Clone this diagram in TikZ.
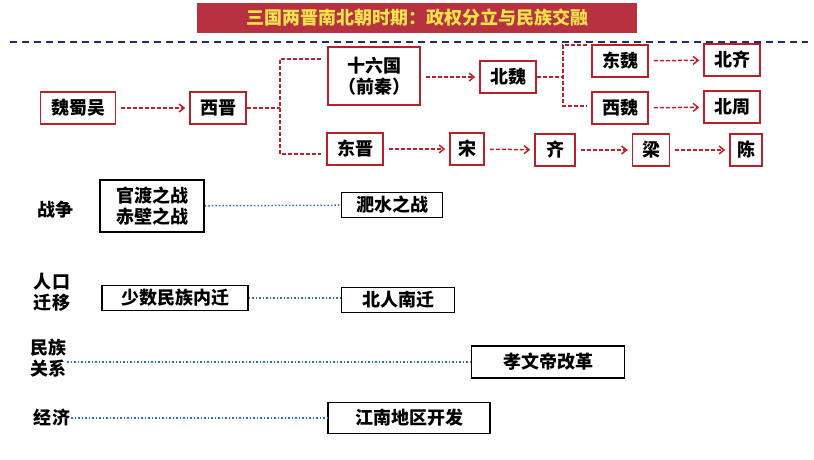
\documentclass[tikz,border=0pt]{standalone}
\usepackage{fontspec}
\setmainfont{Noto Sans CJK SC}
\usetikzlibrary{positioning,arrows.meta}
\definecolor{titlered}{HTML}{B83140}
\definecolor{titleyellow}{HTML}{F7E44C}
\definecolor{boxred}{HTML}{B8202A}
\definecolor{linkred}{HTML}{C0202A}
\definecolor{dashblue}{HTML}{1F2F6B}
\definecolor{dotblue}{HTML}{2F6FBF}
\begin{document}
\begin{tikzpicture}[
                x=1pt,y=-1pt,
                font=\fontsize{18}{21}\selectfont\bfseries,
                state/.style={draw=boxred,line width=1.5pt,inner sep=2pt,minimum width=56pt,minimum height=32pt,align=center},
                event/.style={draw=black,line width=1.5pt,inner sep=2pt,minimum height=25pt,align=center},
                link/.style={draw=linkred,line width=1.5pt,dash pattern=on 4pt off 2pt,shorten <=5pt,shorten >=4pt,-{Straight Barb[length=5pt,width=8pt]}},
                branch/.style={draw=linkred,line width=1.5pt,dash pattern=on 4pt off 2pt},
                tie/.style={draw=dotblue,line width=1.5pt,dotted},
                topic/.style={align=center,inner sep=1pt}
            ]
                \useasboundingbox (0,0) rectangle (814,460);
                % title
                \node (title) [fill=titlered,text=titleyellow,minimum width=440pt,minimum height=30pt] at (417,18) {三国两晋南北朝时期：政权分立与民族交融};
                \coordinate (rule0) at (10,42);
                \coordinate (rule1) at (808,42);
                \draw[dashblue,line width=1.5pt,dash pattern=on 7pt off 5pt] (rule0) -- (rule1);
                % states
                \node (wsw) [state,minimum width=75pt] at (78,108)  {魏蜀吴};
                \node (xj)  [state] at (218,108) {西晋};
                \node (sl)  [state,minimum width=92pt,minimum height=58pt] at (374,76) {十六国\\（前秦）};
                \node (dj)  [state] at (355,149) {东晋};
                \node (bw)  [state] at (508,77)  {北魏};
                \node (dw)  [state] at (620,61)  {东魏};
                \node (xw)  [state] at (620,108) {西魏};
                \node (bq)  [state] at (732,60)  {北齐};
                \node (bz)  [state] at (732,107) {北周};
                \node (song)[state,minimum width=34pt] at (467,149) {宋};
                \node (qi)  [state,minimum width=40pt] at (555,150) {齐};
                \node (liang)[state,minimum width=37pt] at (651,150) {梁};
                \node (chen)[state,minimum width=32pt] at (746,150) {陈};
                \draw[link] (wsw) -- (xj);
                \coordinate (s1) at (280,108);
                \coordinate (s1a) at (321,59);
                \coordinate (s1b) at (321,154);
                \draw[branch] (xj) -- (s1) (s1a) -| (s1) |- (s1b);
                \draw[link] (sl.east |- bw) -- (bw);
                \coordinate (s2) at (563,77);
                \coordinate (s2a) at (587,45);
                \coordinate (s2b) at (587,106);
                \draw[branch] (bw) -- (s2) (s2a) -| (s2) |- (s2b);
                \draw[link] (dw) -- (bq);
                \draw[link] (xw) -- (bz);
                \draw[link] (dj) -- (song);
                \draw[link] (song) -- (qi);
                \draw[link] (qi) -- (liang);
                \draw[link] (liang) -- (chen);
                % themes
                \node (war)  [topic] at (55,210)  {战争};
                \node (mig)  [topic] at (52,292)  {人口\\迁移};
                \node (eth)  [topic] at (48,358)  {民族\\关系};
                \node (eco)  [topic] at (52,418)  {经济};
                \node (gd)   [event,minimum width=104pt,minimum height=52pt] at (152,206) {官渡之战\\赤壁之战};
                \node (fs)   [event,minimum width=101pt] at (392,205) {淝水之战};
                \node (ss)   [event,minimum width=146pt] at (175,298) {少数民族内迁};
                \node (br)   [event,minimum width=113pt] at (398,300) {北人南迁};
                \node (xwd)  [event,minimum width=153pt,minimum height=32pt] at (548,362) {孝文帝改革};
                \node (jn)   [event,minimum width=162pt,minimum height=31pt] at (409,418) {江南地区开发};
                \draw[tie] (gd) -- (fs);
                \draw[tie] (ss) -- (br.west |- ss);
                \draw[tie] (eth.east |- xwd) -- (xwd);
                \draw[tie] (eco) -- (jn);
            \end{tikzpicture}
\end{document}
